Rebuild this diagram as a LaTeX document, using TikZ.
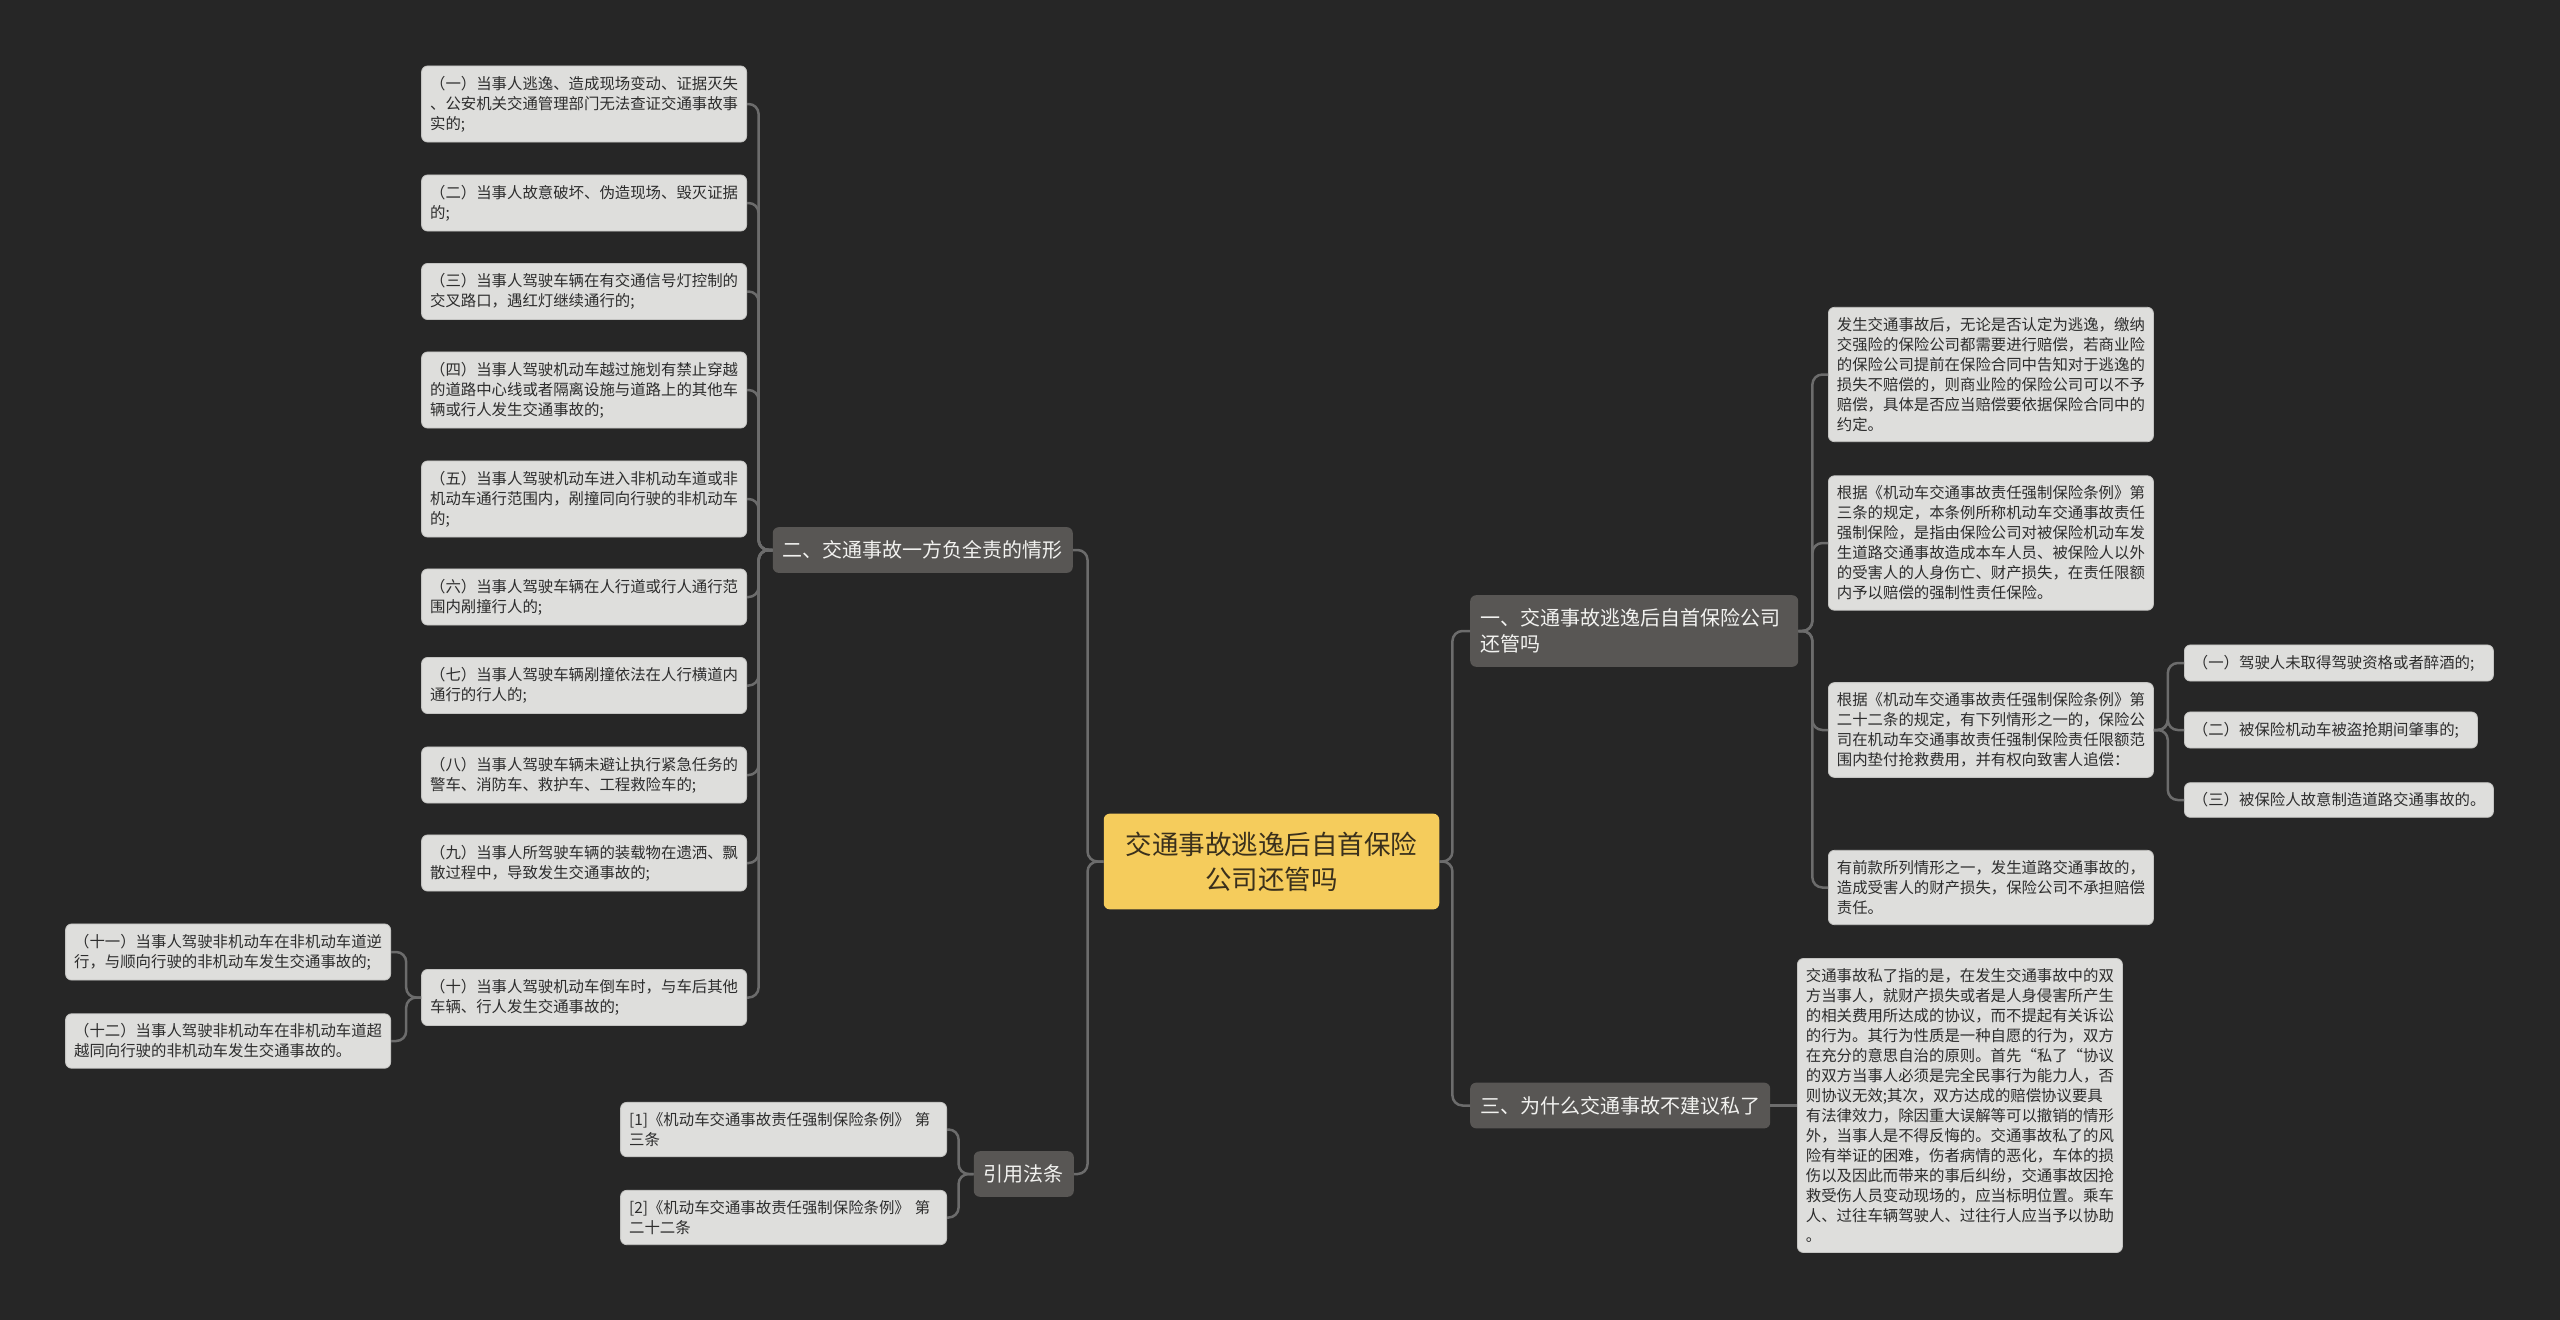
\documentclass[tikz,border=0pt]{standalone}
\usepackage{fontspec}
\setmainfont{Noto Sans CJK SC}
\usepackage{tikz}
\definecolor{canvas}{RGB}{38, 38, 38}
\definecolor{rootfill}{RGB}{245, 204, 92}
\definecolor{rootink}{RGB}{58, 48, 28}
\definecolor{branchfill}{RGB}{88, 86, 84}
\definecolor{branchink}{RGB}{242, 242, 240}
\definecolor{leaffill}{RGB}{222, 222, 220}
\definecolor{leafedge}{RGB}{196, 196, 194}
\definecolor{leafink}{RGB}{45, 45, 45}
\definecolor{linkgray}{RGB}{108, 108, 108}

\begin{document}
\begin{tikzpicture}[
    x=1pt, y=-1pt,
    leaf/.style={rectangle, rounded corners=6pt, fill=leaffill, draw=leafedge, line width=0.8pt, text=leafink, align=left, inner xsep=8.5pt, inner ysep=10pt, font=\fontsize{15.4}{20}\selectfont},
    branch/.style={rectangle, rounded corners=6pt, fill=branchfill, text=branchink, align=left, inner xsep=10pt, inner ysep=13.5pt, font=\fontsize{20}{26}\selectfont},
    rootbox/.style={rectangle, rounded corners=6pt, fill=rootfill, text=rootink, align=center, inner xsep=22pt, inner ysep=18pt, font=\fontsize{26.5}{35}\selectfont},
    link/.style={draw=linkgray, line width=2.5pt, rounded corners=10pt}
  ]

  \fill[canvas] (0, 0) rectangle (2560, 1320);

  \node[rootbox] (root) at (1271.5, 861.5) {交通事故逃逸后自首保险\\公司还管吗};

  % branches
  \node[branch, anchor=west, text width=308pt] (b1) at (1470, 631) {一、交通事故逃逸后自首保险公司\\还管吗};
  \node[branch, anchor=east] (b2) at (1073, 550) {二、交通事故一方负全责的情形};
  \node[branch, anchor=west] (b3) at (1470, 1105.5) {三、为什么交通事故不建议私了};
  \node[branch, anchor=east] (b4) at (1074, 1174) {引用法条};

  % left: situations
  \node[leaf, anchor=east] (q1) at (747, 104) {（一）当事人逃逸、造成现场变动、证据灭失\\、公安机关交通管理部门无法查证交通事故事\\实的;};
  \node[leaf, anchor=east] (q2) at (747, 203) {（二）当事人故意破坏、伪造现场、毁灭证据\\的;};
  \node[leaf, anchor=east] (q3) at (747, 291.5) {（三）当事人驾驶车辆在有交通信号灯控制的\\交叉路口，遇红灯继续通行的;};
  \node[leaf, anchor=east] (q4) at (747, 390) {（四）当事人驾驶机动车越过施划有禁止穿越\\的道路中心线或者隔离设施与道路上的其他车\\辆或行人发生交通事故的;};
  \node[leaf, anchor=east] (q5) at (747, 499) {（五）当事人驾驶机动车进入非机动车道或非\\机动车通行范围内，剐撞同向行驶的非机动车\\的;};
  \node[leaf, anchor=east] (q6) at (747, 597) {（六）当事人驾驶车辆在人行道或行人通行范\\围内剐撞行人的;};
  \node[leaf, anchor=east] (q7) at (747, 685.5) {（七）当事人驾驶车辆剐撞依法在人行横道内\\通行的行人的;};
  \node[leaf, anchor=east] (q8) at (747, 775) {（八）当事人驾驶车辆未避让执行紧急任务的\\警车、消防车、救护车、工程救险车的;};
  \node[leaf, anchor=east] (q9) at (747, 863) {（九）当事人所驾驶车辆的装载物在遗洒、飘\\散过程中，导致发生交通事故的;};
  \node[leaf, anchor=east] (q10) at (747, 997.5) {（十）当事人驾驶机动车倒车时，与车后其他\\车辆、行人发生交通事故的;};
  \node[leaf, anchor=east] (q11) at (391, 952) {（十一）当事人驾驶非机动车在非机动车道逆\\行，与顺向行驶的非机动车发生交通事故的;};
  \node[leaf, anchor=east] (q12) at (391, 1041) {（十二）当事人驾驶非机动车在非机动车道超\\越同向行驶的非机动车发生交通事故的。};

  % left: cited articles
  \node[leaf, anchor=east, text width=309pt] (r1) at (947, 1129.5) {[1]《机动车交通事故责任强制保险条例》 第\\三条};
  \node[leaf, anchor=east, text width=309pt] (r2) at (947, 1217.5) {[2]《机动车交通事故责任强制保险条例》 第\\二十二条};

  % right: answers
  \node[leaf, anchor=west] (a1) at (1828, 374.5) {发生交通事故后，无论是否认定为逃逸，缴纳\\交强险的保险公司都需要进行赔偿，若商业险\\的保险公司提前在保险合同中告知对于逃逸的\\损失不赔偿的，则商业险的保险公司可以不予\\赔偿，具体是否应当赔偿要依据保险合同中的\\约定。};
  \node[leaf, anchor=west] (a2) at (1828, 543) {根据《机动车交通事故责任强制保险条例》第\\三条的规定，本条例所称机动车交通事故责任\\强制保险，是指由保险公司对被保险机动车发\\生道路交通事故造成本车人员、被保险人以外\\的受害人的人身伤亡、财产损失，在责任限额\\内予以赔偿的强制性责任保险。};
  \node[leaf, anchor=west] (a3) at (1828, 730) {根据《机动车交通事故责任强制保险条例》第\\二十二条的规定，有下列情形之一的，保险公\\司在机动车交通事故责任强制保险责任限额范\\围内垫付抢救费用，并有权向致害人追偿：};
  \node[leaf, anchor=west] (a4) at (1828, 887.5) {有前款所列情形之一，发生道路交通事故的，\\造成受害人的财产损失，保险公司不承担赔偿\\责任。};
  \node[leaf, anchor=west, text width=292pt] (s1) at (2184, 663) {（一）驾驶人未取得驾驶资格或者醉酒的;};
  \node[leaf, anchor=west, text width=276pt] (s2) at (2184, 730) {（二）被保险机动车被盗抢期间肇事的;};
  \node[leaf, anchor=west, text width=292pt] (s3) at (2184, 800) {（三）被保险人故意制造道路交通事故的。};

  \node[leaf, anchor=west] (p1) at (1797, 1105.5) {交通事故私了指的是，在发生交通事故中的双\\方当事人，就财产损失或者是人身侵害所产生\\的相关费用所达成的协议，而不提起有关诉讼\\的行为。其行为性质是一种自愿的行为，双方\\在充分的意思自治的原则。首先“私了“协议\\的双方当事人必须是完全民事行为能力人，否\\则协议无效;其次，双方达成的赔偿协议要具\\有法律效力，除因重大误解等可以撤销的情形\\外，当事人是不得反悔的。交通事故私了的风\\险有举证的困难，伤者病情的恶化，车体的损\\伤以及因此而带来的事后纠纷，交通事故因抢\\救受伤人员变动现场的，应当标明位置。乘车\\人、过往车辆驾驶人、过往行人应当予以协助\\。};

  % connectors
  \foreach \b in {b1, b3} {
    \draw[link] (root.east) -- ++(13, 0) |- (\b.west);
  }
  \foreach \b in {b2, b4} {
    \draw[link] (root.west) -- ++(-16, 0) |- (\b.east);
  }
  \foreach \i in {1,...,10} {
    \draw[link] (b2.west) -- ++(-14, 0) |- (q\i.east);
  }
  \foreach \i in {11, 12} {
    \draw[link] (q10.west) -- ++(-15, 0) |- (q\i.east);
  }
  \foreach \i in {1, 2} {
    \draw[link] (b4.west) -- ++(-15, 0) |- (r\i.east);
  }
  \foreach \i in {1,...,4} {
    \draw[link] (b1.east) -- ++(14, 0) |- (a\i.west);
  }
  \foreach \i in {1,...,3} {
    \draw[link] (a3.east) -- ++(14, 0) |- (s\i.west);
  }
  \draw[link] (b3.east) -- (p1.west);

\end{tikzpicture}
\end{document}
